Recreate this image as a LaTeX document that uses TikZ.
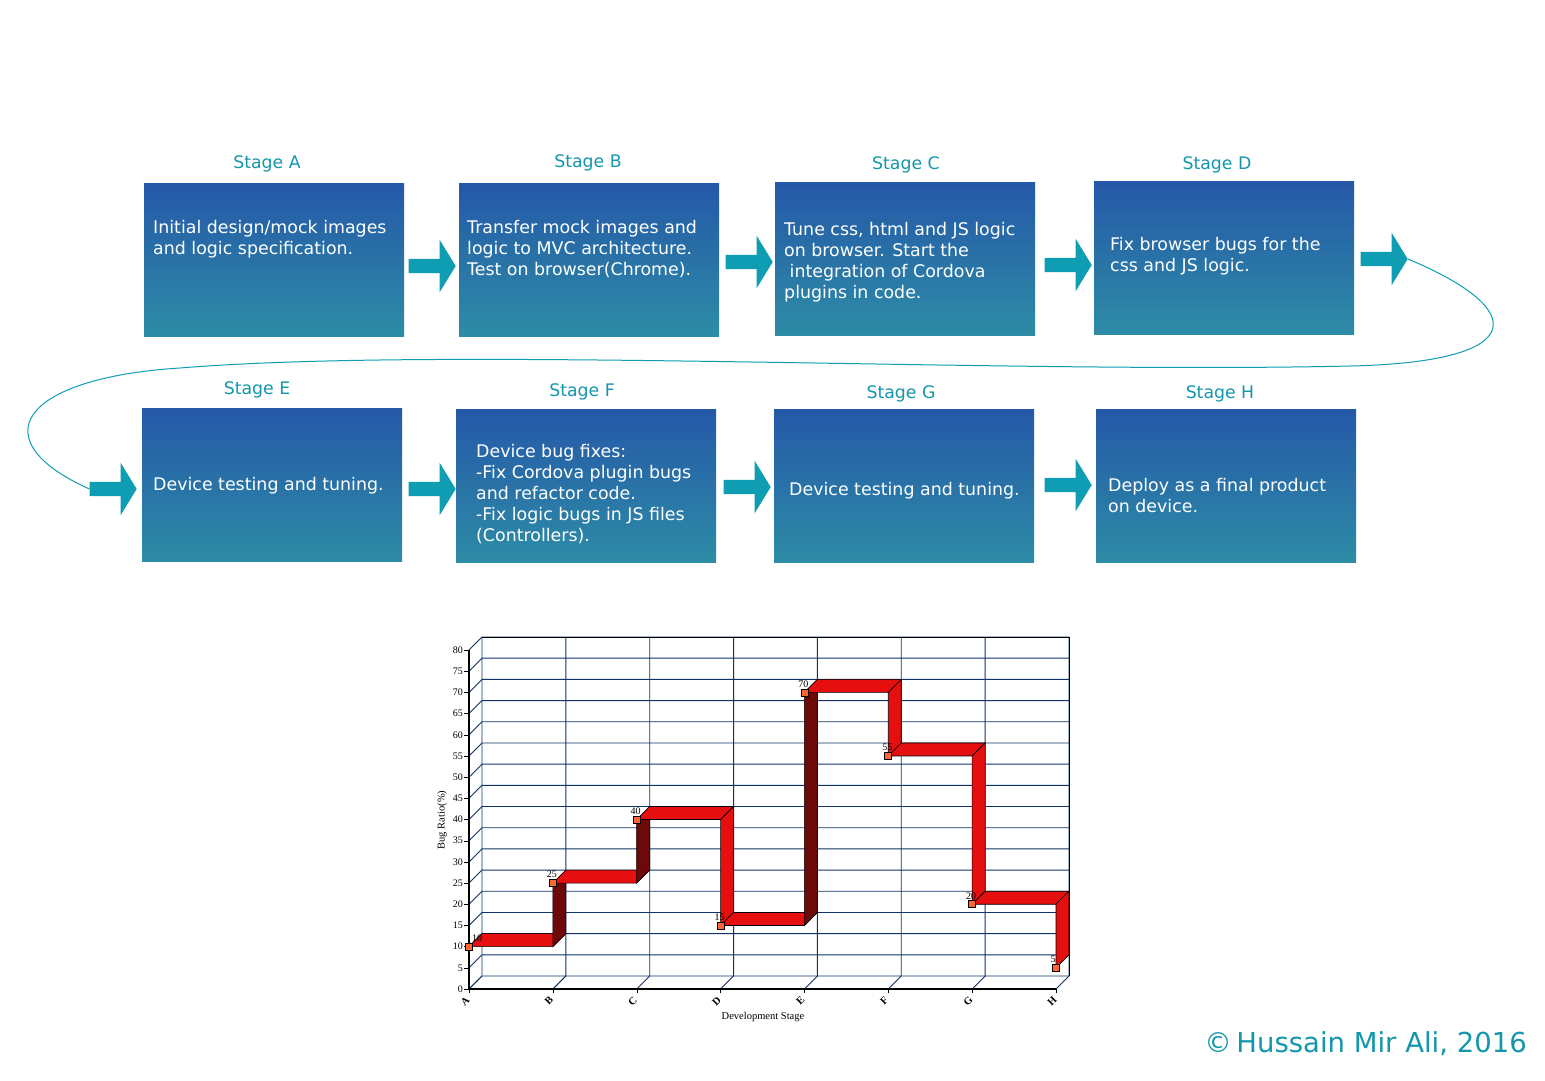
\documentclass[tikz,border=0pt]{standalone}
\usepackage{fontspec}
\setmainfont{DejaVu Sans}
\newfontfamily\chartfont{Liberation Serif}
\usetikzlibrary{positioning}
\usetikzlibrary{calc}
\usetikzlibrary{shapes.arrows}
\definecolor{boxtop}{HTML}{2558A8}
\definecolor{boxbot}{HTML}{2D8CA6}
\definecolor{stageteal}{HTML}{1497AC}
\definecolor{arrowteal}{HTML}{0E9DB2}
\definecolor{gridblue}{HTML}{0F3366}
\definecolor{barred}{HTML}{E60F0F}
\definecolor{bardark}{HTML}{6E0909}
\definecolor{markorange}{HTML}{FF6633}
\newcommand{\chx}[1]{469+#1*83.857}
\newcommand{\chy}[1]{989-#1*4.2375}

\begin{document}
\begin{tikzpicture}[
    x=1pt, y=-1pt,
    stagebox/.style={rectangle, minimum width=260pt, minimum height=153pt, top color=boxtop, bottom color=boxbot, draw=none, inner sep=0pt},
    stagetext/.style={anchor=west, align=left, text=white, inner sep=0pt, font=\fontsize{17.4}{21}\selectfont},
    stagelbl/.style={text=stageteal, inner sep=0pt, font=\fontsize{17.3}{21}\selectfont},
    blockarr/.style={single arrow, fill=arrowteal, draw=none, minimum height=47pt, single arrow head extend=19pt, single arrow tip angle=117, inner xsep=0pt, inner ysep=7pt},
    loopline/.style={draw=arrowteal, line width=1pt},
    gridline/.style={draw=gridblue, line width=0.9pt},
    ticklbl/.style={inner sep=0pt, font=\chartfont\fontsize{10}{11}\selectfont},
    catlbl/.style={inner sep=0pt, font=\chartfont\bfseries\fontsize{10.5}{11}\selectfont},
    topface/.style={fill=barred, draw=black, line width=0.6pt},
    marksq/.style={rectangle, minimum size=7pt, inner sep=0pt, fill=markorange, draw=black, line width=0.6pt},
    >=latex
]
    \fill[white] (0,0) rectangle (1545,1080);
    \useasboundingbox (0,0) rectangle (1545,1080);

    \node[stagebox] (stA) at (274,259.5) {};
    \node[stagebox] (stB) at (589,259.5) {};
    \node[stagebox] (stC) at (905,258.5) {};
    \node[stagebox] (stD) at (1224,257.5) {};
    \node[stagebox] (stE) at (272,484.5) {};
    \node[stagebox] (stF) at (586,485.5) {};
    \node[stagebox] (stG) at (904,485.5) {};
    \node[stagebox] (stH) at (1226,485.5) {};

    \node[stagelbl] (lblA) at (267,164) {Stage A};
    \node[stagelbl] (lblB) at (588,163) {Stage B};
    \node[stagelbl] (lblC) at (906,165) {Stage C};
    \node[stagelbl] (lblD) at (1217,165) {Stage D};
    \node[stagelbl] (lblE) at (257,390) {Stage E};
    \node[stagelbl] (lblF) at (582,392) {Stage F};
    \node[stagelbl] (lblG) at (901,394) {Stage G};
    \node[stagelbl] (lblH) at (1220,394) {Stage H};

    \node[stagetext] (txtA) at (153,239) {Initial design/mock images\\and logic specification.};
    \node[stagetext] (txtB) at (467,249.5) {Transfer mock images and\\logic to MVC architecture.\\Test on browser(Chrome).};
    \node[stagetext] (txtC) at (784,262) {Tune css, html and JS logic\\on browser. Start the\\\ integration of Cordova\\plugins in code.};
    \node[stagetext] (txtD) at (1110,256) {Fix browser bugs for the\\css and JS logic.};
    \node[stagetext] (txtE) at (153,485.5) {Device testing and tuning.};
    \node[stagetext] (txtF) at (476,494.5) {Device bug fixes:\\-Fix Cordova plugin bugs\\and refactor code.\\-Fix logic bugs in JS files\\(Controllers).};
    \node[stagetext] (txtG) at (789,490.5) {Device testing and tuning.};
    \node[stagetext] (txtH) at (1108,496) {Deploy as a final product\\on device.};

    \node[blockarr] (arrAB) at (430,266) {};
    \node[blockarr] (arrBC) at (747,262) {};
    \node[blockarr] (arrCD) at (1066,265) {};
    \node[blockarr] (arrDout) at (1382,259) {};
    \node[blockarr] (arrEin) at (111,489) {};
    \node[blockarr] (arrEF) at (430,489) {};
    \node[blockarr] (arrFG) at (745,487) {};
    \node[blockarr] (arrGH) at (1066,485) {};

    \draw[loopline] (arrDout.tip) .. controls (1530,310) and (1530,362) .. (1350,366)
        .. controls (1000,374) and (450,346) .. (180,368)
        .. controls (20,378) and (-20,440) .. (arrEin.tail);

    % chart
    \foreach \v in {0,5,...,80}{
        \draw[gridline] (469,{\chy{\v}}) -- (482,{\chy{\v}-13}) -- (1069,{\chy{\v}-13});
        \draw (464,{\chy{\v}}) -- (469,{\chy{\v}});
        \node[ticklbl, anchor=east] (yt\v) at (463,{\chy{\v}}) {\v};
    }
    \foreach \c [count=\i from 0] in {A,...,H}{
        \draw[gridline] ({\chx{\i}},989) -- ({\chx{\i}+13},976) -- ({\chx{\i}+13},637);
        \draw ({\chx{\i}},989) -- ({\chx{\i}},993);
        \node[catlbl, rotate=45] (xc\c) at ({\chx{\i}-4},1001) {\c};
    }
    \draw[line width=0.9pt] (482,637) -- (1069,637) -- (1069,976);
    \draw[line width=2pt] (469,650) -- (469,989) -- (1056,989);

    \foreach \i/\a/\b in {0/10/25,1/25/40,2/40/15,3/15/70,4/70/55,5/55/20,6/20/5}{
        \pgfmathsetmacro\xa{\chx{\i}}
        \pgfmathsetmacro\xb{\chx{(\i+1)}}
        \pgfmathsetmacro\ya{\chy{\a}}
        \pgfmathsetmacro\yb{\chy{\b}}
        \ifnum\b>\a \def\fc{bardark}\else \def\fc{barred}\fi
        \filldraw[topface] (\xa,\ya) -- (\xb,\ya) -- ({\xb+13},{\ya-13}) -- ({\xa+13},{\ya-13}) -- cycle;
        \filldraw[topface, fill=\fc] (\xb,\ya) -- (\xb,\yb) -- ({\xb+13},{\yb-13}) -- ({\xb+13},{\ya-13}) -- cycle;
    }
    \foreach \v/\dx [count=\i from 0] in {10/8,25/-1,40/-1,15/-1,70/-1,55/-1,20/-1,5/-3}{
        \node[marksq] (pt\i) at ({\chx{\i}},{\chy{\v}}) {};
        \node[ticklbl, above=1pt of pt\i, xshift=\dx pt] (val\i) {\v};
    }
    \node[ticklbl, rotate=90, font=\chartfont\fontsize{10.5}{11}\selectfont] (ytitle) at (442,820) {Bug Ratio(\%)};
    \node[ticklbl, font=\chartfont\fontsize{10.5}{11}\selectfont] (xtitle) at (763,1017) {Development Stage};

    \node[anchor=east, text=stageteal, inner sep=0pt, font=\fontsize{27.5}{32}\selectfont] (copy) at (1527,1044) {©\,Hussain Mir Ali, 2016};
\end{tikzpicture}
\end{document}
